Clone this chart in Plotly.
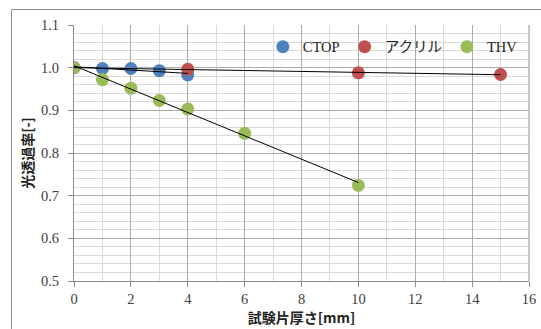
import numpy as np
import plotly.graph_objects as go

# ---- data ----
series_names = ["CTOP", "アクリル", "THV"]
ctop_x = [0, 1, 2, 3, 4]
ctop_y = [1.000, 0.998, 0.998, 0.993, 0.983]
acryl_x = [0, 4, 10, 15]
acryl_y = [1.000, 0.996, 0.988, 0.984]
thv_x = [0, 1, 2, 3, 4, 6, 10]
thv_y = [1.000, 0.972, 0.952, 0.923, 0.903, 0.846, 0.724]
colors = ["#4F81BD", "#C0504D", "#9BBB59"]

x_title = "試験片厚さ[mm]"
y_title = "光透過率[-]"

serif = "'Liberation Serif', 'Noto Sans CJK JP', serif"
cjk = "'Noto Sans CJK JP', sans-serif"
tickfont = dict(family=serif, size=14.5, color="#404040")

fig = go.Figure()
datasets = [(ctop_x, ctop_y), (acryl_x, acryl_y), (thv_x, thv_y)]
for name, (xs, ys), c in zip(series_names, datasets, colors):
    fig.add_trace(go.Scatter(x=xs, y=ys, mode="markers", name=name,
                             marker=dict(color=c, size=13, line=dict(width=0))))
# linear trendlines
for (xs, ys) in datasets:
    k, b = np.polyfit(xs, ys, 1)
    xe = [min(xs), max(xs)]
    fig.add_trace(go.Scatter(x=xe, y=[k * v + b for v in xe], mode="lines",
                             line=dict(color="black", width=1), showlegend=False,
                             hoverinfo="skip"))

fig.update_layout(
    width=541, height=329,
    margin=dict(l=74, r=12, t=25, b=48, autoexpand=False),
    paper_bgcolor="white", plot_bgcolor="white",
    font=dict(family=serif, size=14, color="#404040"),
    legend=dict(orientation="h", x=0.415, xanchor="left", y=0.915, yanchor="middle",
                bgcolor="rgba(0,0,0,0)", font=dict(family=serif, size=14.5, color="#222"),
                itemwidth=30, tracegroupgap=0),
    xaxis=dict(range=[0, 16], dtick=2, tick0=0, showgrid=True, gridcolor="#ababab",
               gridwidth=1, zeroline=False, showline=True, linecolor="#8c8c8c",
               ticks="outside", ticklen=5, tickcolor="#8c8c8c", automargin=False,
               tickfont=tickfont,
               minor=dict(dtick=1, showgrid=True, gridcolor="#dadada", ticks=""),
               title=dict(text="<b>" + x_title + "</b>", font=dict(family=cjk, size=14, color="#222"),
                          standoff=4)),
    yaxis=dict(range=[0.5, 1.1], dtick=0.1, tick0=0.5, tickformat=".1f", showgrid=True,
               gridcolor="#ababab", gridwidth=1, zeroline=False, showline=True,
               linecolor="#8c8c8c", ticks="outside", ticklen=5, tickcolor="#8c8c8c",
               ticklabelstandoff=6, automargin=False, tickfont=tickfont,
               minor=dict(dtick=0.02, showgrid=True, gridcolor="#dadada", ticks=""),
               title=dict(text="<b>" + y_title + "</b>", font=dict(family=cjk, size=14, color="#222"),
                          standoff=4)),
    shapes=[
        dict(type="rect", xref="paper", yref="paper", x0=-0.1374, x1=1.2, y0=-0.4, y1=1.0605,
             line=dict(color="#8c8c8c", width=1), fillcolor="rgba(0,0,0,0)", layer="below"),
        dict(type="line", xref="paper", yref="paper", x0=1, x1=1, y0=0, y1=1,
             line=dict(color="#8c8c8c", width=1), layer="between"),
        dict(type="rect", xref="paper", yref="paper", x0=0.4396, x1=0.9846, y0=0.8438, y1=1.02,
             line=dict(width=0), fillcolor="white", layer="between"),
    ],
)

fig.write_html("out.html", config={"displayModeBar": False},
               post_script="document.body.style.margin='0';")
